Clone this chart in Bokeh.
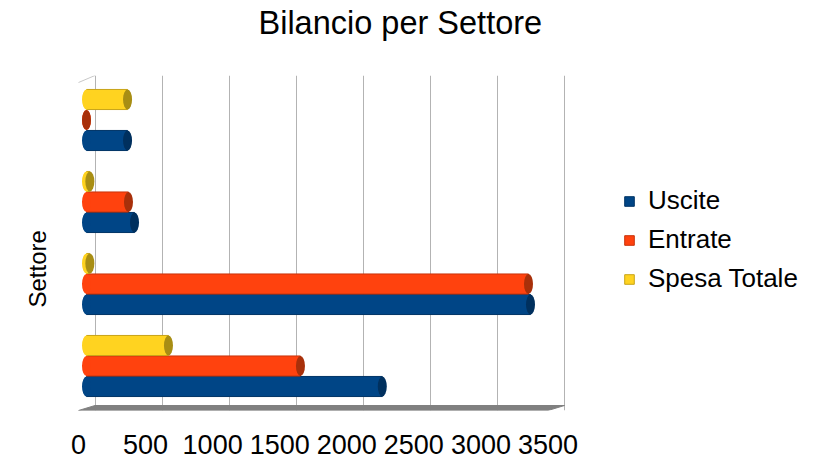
from bokeh.plotting import figure
from bokeh.models import (ColumnDataSource, Range1d, FixedTicker,
                          LinearAxis, Grid, Legend, LegendItem, Title)
from bokeh.transform import dodge
from bokeh.embed import file_html
from bokeh.resources import INLINE

# ---- data (bottom group first) ----
settori = ["Settore 1", "Settore 2", "Settore 3", "Settore 4"]
uscite = [2205, 3310, 358, 306]
entrate = [1595, 3295, 313, 0]
spesa = [611, 25, 25, 306]
series = ["Uscite", "Entrate", "Spesa Totale"]
ticks = [0, 500, 1000, 1500, 2000, 2500, 3000, 3500]

# ---- style / geometry ----
FONT = "Liberation Sans"
FRAME_W, FRAME_H = 510, 335
PX = 0.13414            # pixels per unit (x)
BAR_ZERO = 16           # px from frame left to bar zero
BACK = 8.5              # back plane shift (px)
FRONT = -8              # front plane shift (px)
PITCH = 82.0            # px per category (y)
body_colors = ["#004586", "#ff420e", "#ffd320"]
cap_colors = ["#00305e", "#a8300a", "#a88e14"]
edge_colors = ["#003466", "#c8340b", "#c8a418"]
offsets = [-0.25, 0.0, 0.25]
BAR_H = 0.245

x0 = -BAR_ZERO / PX
x1 = x0 + FRAME_W / PX
n = len(settori)
pad = (FRAME_H / PITCH - n) / 2
y0, y1 = -0.5 - pad, n - 0.5 + pad

p = figure(frame_width=FRAME_W, frame_height=FRAME_H,
           y_range=Range1d(y0, y1), x_range=Range1d(x0, x1),
           x_axis_location=None, y_axis_location=None,
           output_backend="svg", toolbar_location=None,
           min_border_left=70, min_border_right=238,
           min_border_top=75, min_border_bottom=46,
           outline_line_color=None, background_fill_color="white")

p.extra_x_ranges = {
    "back": Range1d(x0 - BACK / PX, x1 - BACK / PX),
    "front": Range1d(x0 - FRONT / PX, x1 - FRONT / PX),
}

p.xgrid.visible = False
p.ygrid.visible = False
p.add_layout(Grid(dimension=0, ticker=FixedTicker(ticks=ticks),
                  x_range_name="back", grid_line_color="#b3b3b3",
                  grid_line_width=1))

# floor
fx = [ticks[0] + BACK / PX, ticks[-1] + BACK / PX,
      ticks[-1] + FRONT / PX, ticks[0] + FRONT / PX]
fy_back = y0 + 5 / PITCH
p.patch(fx, [fy_back, fy_back, y0, y0], fill_color="#808080",
        line_color="#808080", line_width=1)
# top edge of left wall
p.line([ticks[0] + FRONT / PX, ticks[0] + BACK / PX], [y1 - 7 / PITCH, y1],
       line_color="#c8c8c8", line_width=1)

src = ColumnDataSource(dict(pos=list(range(n)), settore=settori,
                            zero=[0] * n,
                            Uscite=uscite, Entrate=entrate, Spesa=spesa))
cols = ["Uscite", "Entrate", "Spesa"]
items = []
for name, col, off, bc, cc, ec in zip(series, cols, offsets, body_colors,
                                       cap_colors, edge_colors):
    y = dodge("pos", off)
    r = p.hbar(y=y, left=0, right=col, height=BAR_H, source=src,
               fill_color=bc, line_color=ec, line_width=1)
    p.ellipse(x="zero", y=y, width=9, height=20, width_units="screen",
              height_units="screen", source=src, fill_color=bc,
              line_color=None)
    p.ellipse(x=col, y=y, width=9, height=20, width_units="screen",
              height_units="screen", source=src, fill_color=cc,
              line_color=None)
    items.append(LegendItem(label=name, renderers=[r]))

# x axis (front plane labels)
xa = LinearAxis(x_range_name="front", ticker=FixedTicker(ticks=ticks))
xa.axis_line_color = None
xa.major_tick_line_color = None
xa.minor_tick_line_color = None
xa.major_label_standoff = 18
xa.major_label_text_font = FONT
xa.major_label_text_font_size = "27px"
xa.major_label_text_color = "black"
p.add_layout(xa, "below")

# y axis title
ytitle = Title(text="Settore", align="left", offset=103, standoff=40,
               text_font=FONT, text_font_size="24px",
               text_font_style="normal", text_color="black")
p.add_layout(ytitle, "left")

legend = Legend(items=items, location=(43, 112), padding=0, margin=43,
                spacing=0, label_standoff=13, glyph_width=12, glyph_height=12,
                label_height=39, border_line_color=None,
                background_fill_alpha=0, label_text_font=FONT,
                label_text_font_size="26px", label_text_color="black")
p.add_layout(legend, "right")

# spacer between frame and main title
p.add_layout(Title(text=" ", text_font_size="1px", standoff=31), "above")

p.title.text = "Bilancio per Settore"
p.title.align = "left"
p.title.offset = 188
p.title.vertical_align = "bottom"
p.title.text_font = FONT
p.title.text_font_size = "32.5px"
p.title.text_font_style = "normal"
p.title.text_color = "black"
p.title.standoff = 2

open("out.html", "w").write(file_html(p, INLINE))
